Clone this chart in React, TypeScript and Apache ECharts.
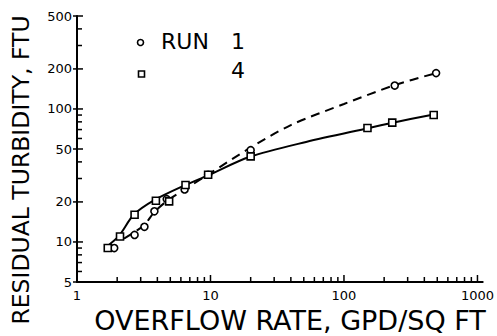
import React, { useEffect, useRef } from "react";
import * as echarts from "echarts";

// RUN 1 (circles, dashed curve)
const run1Points: [number, number][] = [
  [1.9, 9], [2.7, 11.3], [3.2, 13], [3.8, 17], [4.7, 21], [6.4, 24.8],
  [9.6, 32], [20, 49], [240, 150], [490, 186],
];
// RUN 4 (squares, solid curve)
const run4Points: [number, number][] = [
  [1.7, 9], [2.1, 11], [2.7, 16], [3.9, 20.4], [4.9, 20.2], [6.5, 26.8],
  [9.6, 32], [20, 44], [150, 72], [230, 79], [470, 90],
];
// fitted curves
const run1Curve: [number, number][] = [
  [2.25, 10.6], [3.16, 13.3], [3.8, 16.8], [4.8, 20.6], [6.4, 24.8], [9.5, 31.9],
  [19.5, 50.5], [40, 75.7], [100, 109], [240, 151], [490, 186],
];
const run4Curve: [number, number][] = [
  [1.62, 9], [2.06, 11.1], [2.66, 16], [3.82, 20.7], [6.5, 26.8], [9.5, 31.5],
  [19.5, 43.5], [52, 56.5], [154, 72], [232, 78.8], [470, 91],
];

const xTickLabels = [1, 10, 100, 1000];
const xTicks = [
  1, 2, 3, 4, 5, 6, 7, 8, 9, 10, 20, 30, 40, 50, 60, 70, 80, 90,
  100, 200, 300, 400, 500, 600, 700, 800, 900, 1000,
];
const yTickLabels = [5, 10, 20, 50, 100, 200, 500];
const yTicks = [5, 6, 7, 8, 9, 10, 20, 30, 40, 50, 60, 70, 80, 90, 100, 200, 300, 400, 500];

const FONT = "DejaVu Sans";

export default function App() {
  const ref = useRef<HTMLDivElement>(null);
  useEffect(() => {
    if (!ref.current) return;
    const chart = echarts.init(ref.current, undefined, { renderer: "svg" });
    const X_MIN = 1;
    const X_MAX = 1000;
    const Y_MIN = 5;
    chart.setOption({
      animation: false,
      backgroundColor: "#fff",
      grid: { left: 77, right: 18, top: 16, bottom: 54, containLabel: false },
      textStyle: { fontFamily: FONT },
      xAxis: {
        type: "log", logBase: 10, min: X_MIN, max: X_MAX,
        axisLine: { lineStyle: { color: "#000", width: 2 } },
        axisTick: { show: false },
        axisLabel: {
          customValues: xTickLabels, color: "#000", fontSize: 13, margin: 7, fontFamily: FONT,
          formatter: (v: number) => String(Math.round(v)),
        },
        splitLine: { show: false },
      },
      yAxis: {
        type: "log", logBase: 10, min: Y_MIN, max: 500,
        axisLine: { lineStyle: { color: "#000", width: 2 } },
        axisTick: { show: false },
        axisLabel: {
          customValues: yTickLabels, color: "#000", fontSize: 13, margin: 5, fontFamily: FONT,
          formatter: (v: number) => String(Math.round(v)),
        },
        splitLine: { show: false },
      },
      series: [
        { name: "RUN 1 curve", type: "line", data: run1Curve, smooth: 0.3, showSymbol: false, symbol: "none",
          lineStyle: { color: "#000", width: 2, type: [9, 6] }, z: 2 },
        { name: "RUN 4 curve", type: "line", data: run4Curve, smooth: 0.3, showSymbol: false, symbol: "none",
          lineStyle: { color: "#000", width: 2 }, z: 2 },
        { name: "RUN 1", type: "scatter", data: run1Points, symbol: "circle", symbolSize: 7,
          itemStyle: { color: "#fff", borderColor: "#000", borderWidth: 1.6, opacity: 1 }, z: 3 },
        { name: "4", type: "scatter", data: run4Points, symbol: "rect", symbolSize: 7,
          itemStyle: { color: "#fff", borderColor: "#000", borderWidth: 1.6, opacity: 1 }, z: 3 },
      ],
    });

    // tick marks placed through the axes' own scales
    const px = (v: number) => chart.convertToPixel({ xAxisIndex: 0 }, v) as number;
    const py = (v: number) => chart.convertToPixel({ yAxisIndex: 0 }, v) as number;
    const x0 = px(X_MIN);
    const y0 = py(Y_MIN);
    const tickRects: any[] = [];
    xTicks.forEach((v) => {
      const major = xTickLabels.indexOf(v) >= 0;
      const x = px(v);
      const len = major ? 7 : 5;
      tickRects.push({
        type: "rect",
        shape: { x: x - 0.75, y: y0 - len, width: 1.5, height: len },
        style: { fill: "#000" },
        z: 10,
      });
    });
    yTicks.forEach((v) => {
      const major = yTickLabels.indexOf(v) >= 0;
      const y = py(v);
      const l = major ? 4 : 0;
      const r = major ? 6 : 5;
      tickRects.push({
        type: "rect",
        shape: { x: x0 - l, y: y - 0.75, width: l + r, height: 1.5 },
        style: { fill: "#000" },
        z: 10,
      });
    });
    // the x axis line runs on a little past 1000
    tickRects.push({
      type: "rect",
      shape: { x: px(X_MAX), y: y0 - 1, width: 6, height: 2 },
      style: { fill: "#000" },
      z: 10,
    });

    chart.setOption({
      graphic: [
        ...tickRects,
        {
          type: "text", x: 20.5, y: 170, rotation: Math.PI / 2,
          style: { text: "RESIDUAL TURBIDITY, FTU", fill: "#000", font: `23.5px '${FONT}'`, textAlign: "center", textVerticalAlign: "middle" },
        },
        {
          type: "text", x: 290, y: 320, scaleX: 1.0,
          style: { text: "OVERFLOW RATE, GPD/SQ FT", fill: "#000", font: `27px '${FONT}'`, textAlign: "center", textVerticalAlign: "middle" },
        },
        { type: "circle", x: 140.5, y: 42.5, shape: { r: 3 }, style: { fill: "#fff", stroke: "#000", lineWidth: 1.6 } },
        { type: "text", x: 161, y: 41.5, style: { text: "RUN", fill: "#000", font: `22px '${FONT}'`, textVerticalAlign: "middle" } },
        { type: "text", x: 231, y: 41.5, style: { text: "1", fill: "#000", font: `22px '${FONT}'`, textVerticalAlign: "middle" } },
        { type: "rect", x: 138.5, y: 71, shape: { width: 6, height: 6 }, style: { fill: "#fff", stroke: "#000", lineWidth: 1.6 } },
        { type: "text", x: 231, y: 70.5, style: { text: "4", fill: "#000", font: `22px '${FONT}'`, textVerticalAlign: "middle" } },
      ],
    });
    return () => chart.dispose();
  }, []);
  return <div ref={ref} style={{ width: 497, height: 336, position: "fixed", left: 0, top: 0 }} />;
}
